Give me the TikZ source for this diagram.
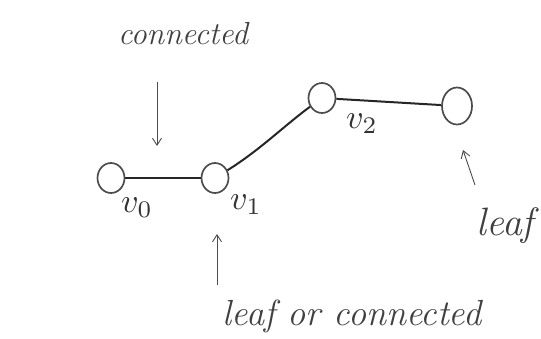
\documentclass[tikz,border=0pt]{standalone}
\usetikzlibrary{arrows.meta,shapes.geometric}
\begin{document}
\begin{tikzpicture}[x=1pt,y=-1pt,
  vert/.style={draw=black!70,line width=1.7pt,ellipse,minimum width=27pt,minimum height=30pt,inner sep=0pt},
  edge/.style={line width=2pt,black!85},
  pointer/.style={line width=0.9pt,black!70,-{Straight Barb[length=7pt,width=9pt]}},
  hand/.style={font=\fontsize{22}{26}\selectfont\itshape,text=black!75},
  lab/.style={scale=3.4,text=black!80}]
\useasboundingbox (0,0) rectangle (541,338);
\node[vert] (v0) at (111,178) {};
\node[vert] (v1) at (215,178) {};
\node[vert] (v2) at (322,98) {};
\node[vert,minimum width=30pt,minimum height=37pt] (v3) at (457,106) {};
\draw[edge] (v0) -- (v1);
\draw[edge] (v1) .. controls (260,150) and (285,125) .. (v2);
\draw[edge] (v2) -- (v3);
\node[lab] (l0) at (137,208) {$v_0$};
\node[lab] (l1) at (246,205) {$v_1$};
\node[lab] (l2) at (362,124) {$v_2$};
\node[hand,scale=1.45] (tc) at (183,34) {connected};
\coordinate (c1s) at (157,82);
\coordinate (c1e) at (157,146);
\draw[pointer] (c1s) -- (c1e);
\node[hand,scale=1.65] (tl) at (352,316) {leaf or connected};
\coordinate (c2s) at (217,285);
\coordinate (c2e) at (217,234);
\draw[pointer] (c2s) -- (c2e);
\node[hand,scale=1.8,anchor=west] (tleaf) at (470,226) {leaf};
\coordinate (c3s) at (475,185);
\coordinate (c3e) at (463,150);
\draw[pointer] (c3s) -- (c3e);
\end{tikzpicture}
\end{document}
